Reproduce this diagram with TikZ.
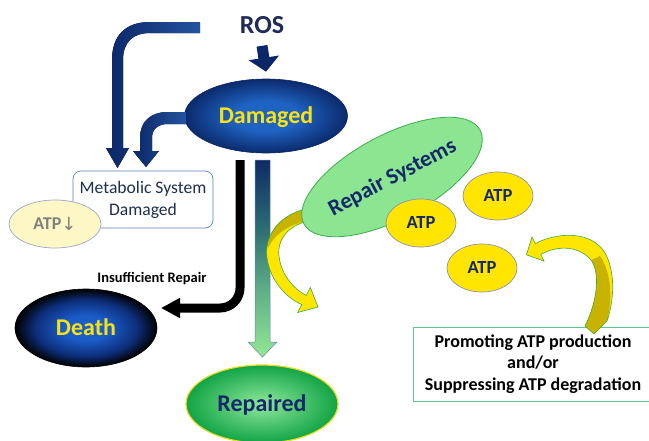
\documentclass[tikz,border=0pt]{standalone}
\usepackage{fontspec}
\setmainfont{Carlito}
\newfontfamily\dejavu{DejaVu Sans}
\usetikzlibrary{shapes.geometric,arrows.meta}
\definecolor{navyA}{HTML}{0B2767}
\definecolor{navyB}{HTML}{24539F}
\definecolor{rostext}{HTML}{1F2B5B}
\definecolor{damA}{HTML}{1F63C2}
\definecolor{damB}{HTML}{0B2A6C}
\definecolor{damedge}{HTML}{0A2560}
\definecolor{deathA}{HTML}{1A5CC8}
\definecolor{deathB}{HTML}{0D2E7A}
\definecolor{repA}{HTML}{8FE89B}
\definecolor{repB}{HTML}{12A446}
\definecolor{repedge}{HTML}{E6DE1E}
\definecolor{ylwtext}{HTML}{F7E21A}
\definecolor{navytext}{HTML}{14286A}
\definecolor{mettext}{HTML}{1F2F4F}
\definecolor{metedge}{HTML}{5B7FC6}
\definecolor{atpdfill}{HTML}{FDF7C5}
\definecolor{atpdedge}{HTML}{9CA8C8}
\definecolor{atpdtext}{HTML}{808080}
\definecolor{atpfill}{HTML}{FFE500}
\definecolor{atpedge}{HTML}{8C93AE}
\definecolor{rsfill}{HTML}{8CE590}
\definecolor{rsedge}{HTML}{3DAE4A}
\definecolor{ylw}{HTML}{FFE600}
\definecolor{olv}{HTML}{C8B400}
\definecolor{grn}{HTML}{3EAA3E}
\definecolor{boxgrn}{HTML}{5CC88F}
\definecolor{grLG}{HTML}{92E894}
\definecolor{grMid}{HTML}{5FAE86}
\definecolor{grTeal}{HTML}{2C6C74}
\definecolor{grNavy}{HTML}{0E2A66}
\definecolor{arrowedge}{HTML}{6A86A8}
\pgfdeclareradialshading{damsh}{\pgfpointorigin}{color(0bp)=(damA); color(10bp)=(damA); color(25bp)=(damB); color(50bp)=(damB)}
\pgfdeclareradialshading{deathsh}{\pgfpointorigin}{color(0bp)=(deathA); color(8bp)=(deathA); color(18bp)=(deathB); color(25bp)=(black); color(50bp)=(black)}
\pgfdeclareradialshading{repsh}{\pgfpointorigin}{color(0bp)=(repA); color(25bp)=(repB); color(50bp)=(repB)}
\pgfdeclareverticalshading{repairsh}{100bp}{color(0bp)=(grLG); color(25bp)=(grLG); color(42bp)=(grMid); color(58bp)=(grTeal); color(75bp)=(grNavy); color(100bp)=(grNavy)}
\tikzset{
  bigell/.style={ellipse, shade, line width=0.6pt, font=\bfseries\fontsize{24}{26}\selectfont, text height=15.4pt, text depth=0pt},
  atpell/.style={ellipse, draw=atpedge, line width=0.7pt, fill=atpfill, minimum width=70, minimum height=48, text=navytext, font=\bfseries\fontsize{18.5}{20}\selectfont, text height=11.9pt, text depth=0pt},
  navyband/.style={left color=navyA, right color=navyB},
  ribbonline/.style={draw=grn, line width=0.6pt}
}
\begin{document}
\begin{tikzpicture}[x=1pt,y=-1pt, every node/.style={inner sep=0pt, align=center}]
\useasboundingbox (0,0) rectangle (649,440);
\clip (0,0) rectangle (649,440);

% Damaged and ROS
\node[bigell, shading=damsh, draw=damedge, minimum width=163, minimum height=74, text=ylwtext] (dam) at (266,116) {Damaged};
\node[font=\bfseries\fontsize{26}{30}\selectfont, text=rostext] (ros) at (262,25) {ROS};
\draw[line width=11pt, navyA, -{Triangle[length=14pt,width=30pt]}] ([yshift=-12pt]ros.south) -- ([yshift=7pt]dam.north);

% navy curved block arrows
\fill[navyband] (200,22) -- (150,22) .. controls (125,22) and (112,36) .. (112,60) -- (112,148) -- (106,148) -- (117.5,168) -- (129,148) -- (123,148) -- (123,60) .. controls (123,42) and (133,33) .. (150,33) -- (200,33) -- cycle;
\fill[navyband] (186,112) -- (168,112) .. controls (150,112) and (140,122) .. (140,138) -- (140,151) -- (133,151) -- (146,167) -- (159,151) -- (152,151) -- (152,138) .. controls (152,129) and (158,124) .. (168,124) -- (186,124) -- cycle;

% metabolic box and ATP down
\node[draw=metedge, line width=0.7pt, rounded corners=8pt, fill=white, minimum width=140, minimum height=57, text=mettext, font=\fontsize{17.6}{22}\selectfont] (met) at (143,199.5) {Metabolic System\\Damaged};
\node[ellipse, draw=atpdedge, line width=0.7pt, fill=atpdfill, minimum width=92, minimum height=48, text=atpdtext, font=\bfseries\fontsize{18}{20}\selectfont, text height=11.6pt, text depth=0pt] (atpd) at (55,224) {ATP{\dejavu\mdseries\fontsize{18}{18}\selectfont\raisebox{-0.5pt}{↓}}};

% black arrow to death
\draw[line width=9pt, rounded corners=20pt, -{Triangle[length=19pt,width=19pt]}] (240,160) -- (240,308) -- (161,308);

% gradient arrow to repaired
\shadedraw[shading=repairsh, draw=arrowedge, line width=0.5pt] (255,160) -- (270,160) -- (270,342) -- (277,342) -- (262.5,357) -- (248,342) -- (255,342) -- cycle;

\node[font=\bfseries\fontsize{14.5}{16}\selectfont, text height=9.3pt, text depth=0pt] (insuf) at (152,278) {Insufficient Repair};

\node[bigell, shading=deathsh, draw=black, minimum width=142, minimum height=78, text=ylwtext] (death) at (86,328) {Death};
\node[bigell, shading=repsh, draw=repedge, line width=1.2pt, minimum width=152, minimum height=78, text=navytext] (rep) at (262,404) {Repaired};

% yellow ribbon arrow from repair systems
\fill[ylw] (315,207) .. controls (280,212) and (264,235) .. (267,258) .. controls (270,280) and (286,298) .. (301.8,304.5) -- (297.7,312.5) -- (318,307) -- (310.3,287.5) -- (306.2,295.5) .. controls (294,289) and (281,275) .. (279,256) .. controls (277,241) and (287,223) .. (315,220) -- cycle;
\fill[olv] (315,207) .. controls (282,212) and (268,230) .. (268,248) .. controls (275,234) and (290,222) .. (315,220) -- cycle;
\draw[ribbonline] (315,207) .. controls (280,212) and (264,235) .. (267,258) .. controls (270,280) and (286,298) .. (301.8,304.5) -- (297.7,312.5) -- (318,307) -- (310.3,287.5) -- (306.2,295.5) .. controls (294,289) and (281,275) .. (279,256) .. controls (277,241) and (287,223) .. (315,220);

% repair systems
\node[ellipse, rotate=28, draw=rsedge, line width=0.8pt, fill=rsfill, minimum width=192, minimum height=84, text=navytext, font=\bfseries\fontsize{22.5}{24}\selectfont, text height=14.5pt, text depth=0pt] (rs) at (392,177) {Repair Systems};

% ATP ellipses
\node[atpell] (atp1) at (421,223) {ATP};
\node[atpell] (atp2) at (498,196) {ATP};
\node[atpell] (atp3) at (482,268) {ATP};

% promoting box
\node[draw=boxgrn, line width=0.8pt, fill=white, minimum width=240, minimum height=74, font=\bfseries\fontsize{18}{21.5}\selectfont] (prom) at (533,364) {Promoting ATP production\\and/or\\Suppressing ATP degradation};

% yellow ribbon arrow from box to ATP
\fill[ylw] (535.3,243.6) .. controls (555,233) and (588,230) .. (603,250) .. controls (614,265) and (616,295) .. (607,321) -- (594,334) -- (585,326) .. controls (598,300) and (600,272) .. (591,260) .. controls (580,247) and (560,244) .. (540.7,254.4) -- (544,261) -- (526.4,254.8) -- (532,237) -- cycle;
\fill[olv] (591,260) .. controls (600,272) and (598,300) .. (585,326) -- (594,334) -- (607,321) .. controls (613,298) and (611,272) .. (600,256) -- cycle;
\draw[ribbonline] (535.3,243.6) .. controls (555,233) and (588,230) .. (603,250) .. controls (614,265) and (616,295) .. (607,321) -- (594,334) -- (585,326) .. controls (598,300) and (600,272) .. (591,260) .. controls (580,247) and (560,244) .. (540.7,254.4) -- (544,261) -- (526.4,254.8) -- (532,237) -- cycle;
\end{tikzpicture}
\end{document}
